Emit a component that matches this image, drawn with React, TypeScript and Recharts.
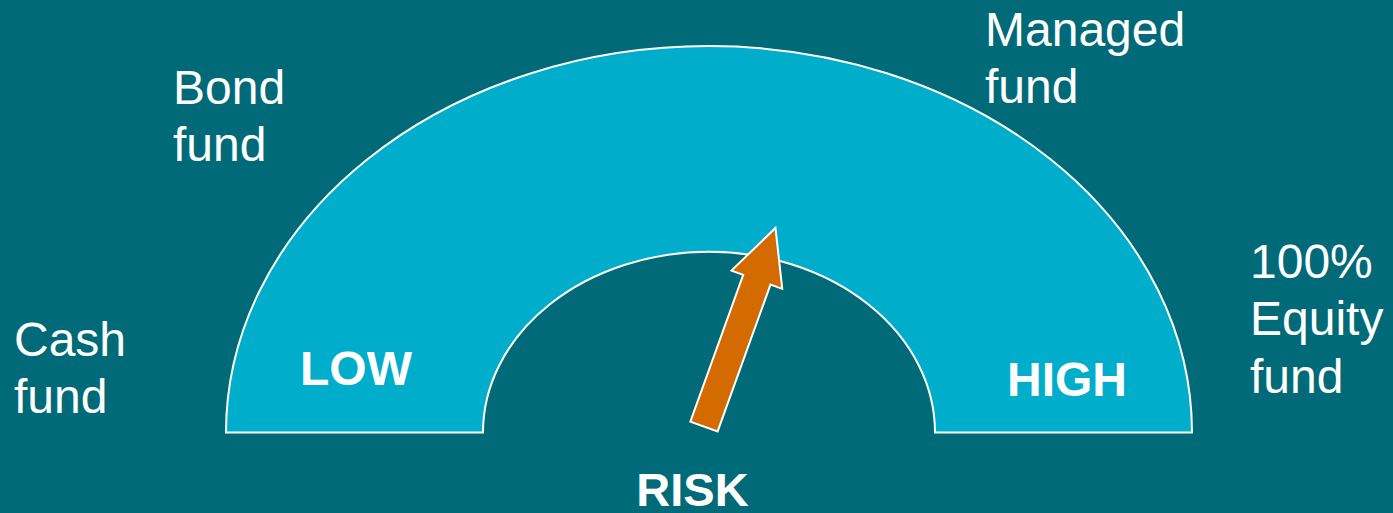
import React from 'react';
import { PieChart, Pie } from 'recharts';

// gauge band: one continuous risk scale, needle sits at riskLevel
const bandData = [{ name: 'risk', value: 100 }];
const riskLevel = 61;
const needleData = [
  { name: 'level', value: riskLevel },
  { name: 'rest', value: 100 - riskLevel },
];
const fundLabels = [['Cash', 'fund'], ['Bond', 'fund'], ['Managed', 'fund'], ['100%', 'Equity', 'fund']];
const scaleLabels = ['LOW', 'HIGH'];
const axisTitle = 'RISK';

const BG = '#006A78';
const BAND = '#00ADCA';
const NEEDLE = '#D36B00';
const FONT = '"Liberation Sans", Arial, sans-serif';
const SQUASH = 0.8; // the gauge is drawn as a flattened ellipse

const RAD = Math.PI / 180;

const ellipsePt = (cx: number, cy: number, r: number, deg: number) => [
  cx + r * Math.cos(deg * RAD),
  cy - r * SQUASH * Math.sin(deg * RAD),
];

// draws the elliptical annulus for the band sector
const renderBand = (props: any) => {
  const { cx, cy, innerRadius, outerRadius, startAngle, endAngle } = props;
  const [ox1, oy1] = ellipsePt(cx, cy, outerRadius, startAngle);
  const [ox2, oy2] = ellipsePt(cx, cy, outerRadius, endAngle);
  const [ix1, iy1] = ellipsePt(cx, cy, innerRadius, startAngle);
  const [ix2, iy2] = ellipsePt(cx, cy, innerRadius, endAngle);
  const d = `M${ox1},${oy1} A${outerRadius},${outerRadius * SQUASH} 0 0 1 ${ox2},${oy2} ` +
    `L${ix2},${iy2} A${innerRadius},${innerRadius * SQUASH} 0 0 0 ${ix1},${iy1} Z`;
  return (
    <g key="band">
      <path d={d} fill={BAND} stroke="#fff" strokeWidth={2} />
      <text x={300} y={385} fill="#fff" fontFamily={FONT} fontWeight="bold" fontSize={48}>{scaleLabels[0]}</text>
      <text x={1007} y={396} fill="#fff" fontFamily={FONT} fontWeight="bold" fontSize={48}>{scaleLabels[1]}</text>
    </g>
  );
};

// arrow needle at the end angle of the first needle sector
const renderNeedle = (props: any) => {
  const { cx, cy, endAngle, index } = props;
  if (index !== 0) return <g key={`n-${index}`} />;
  const ux = Math.cos(endAngle * RAD);
  const uy = -Math.sin(endAngle * RAD);
  const nx = -uy;
  const ny = ux;
  const tx = cx - 5;
  const ty = cy - 6;
  const len = 211;
  const headLen = 55;
  const w = 14.5;
  const hw = 27;
  const hx = tx + (len - headLen) * ux;
  const hy = ty + (len - headLen) * uy;
  const pts = [
    [tx + w * nx, ty + w * ny],
    [hx + w * nx, hy + w * ny],
    [hx + hw * nx, hy + hw * ny],
    [tx + len * ux, ty + len * uy],
    [hx - hw * nx, hy - hw * ny],
    [hx - w * nx, hy - w * ny],
    [tx - w * nx, ty - w * ny],
  ].map((p) => p.join(',')).join(' ');
  return <polygon key="needle" points={pts} fill={NEEDLE} stroke="#fff" strokeWidth={2} strokeLinejoin="miter" />;
};

const fundPos = [
  { x: 14, y: 356 },
  { x: 173, y: 103.5 },
  { x: 985, y: 46 },
  { x: 1250, y: 278 },
];

const App: React.FC = () => {
  return (
    <div style={{ position: 'absolute', left: 0, top: 0, width: 1393, height: 513, background: BG }}>
      <PieChart width={1393} height={513} margin={{ top: 0, right: 0, bottom: 0, left: 0 }}>
        <Pie
          data={bandData}
          dataKey="value"
          cx={709}
          cy={432.5}
          startAngle={180}
          endAngle={0}
          innerRadius={226}
          outerRadius={483}
          fill="none"
          stroke="none"
          label={renderBand}
          labelLine={false}
          isAnimationActive={false}
        />
        <Pie
          data={needleData}
          dataKey="value"
          cx={709}
          cy={432.5}
          startAngle={180}
          endAngle={0}
          innerRadius={0}
          outerRadius={200}
          fill="none"
          stroke="none"
          label={renderNeedle}
          labelLine={false}
          isAnimationActive={false}
        />
        {fundLabels.map((lines, i) => (
          <text key={i} x={fundPos[i].x} y={fundPos[i].y} fill="#fff" fontFamily={FONT} fontSize={48}>
            {lines.map((ln, j) => (
              <tspan key={j} x={fundPos[i].x} dy={j === 0 ? 0 : 57.3}>{ln}</tspan>
            ))}
          </text>
        ))}
        <text x={692.5} y={506} textAnchor="middle" fill="#fff" fontFamily={FONT} fontWeight="bold" fontSize={47}>
          {axisTitle}
        </text>
      </PieChart>
    </div>
  );
};

export default App;
